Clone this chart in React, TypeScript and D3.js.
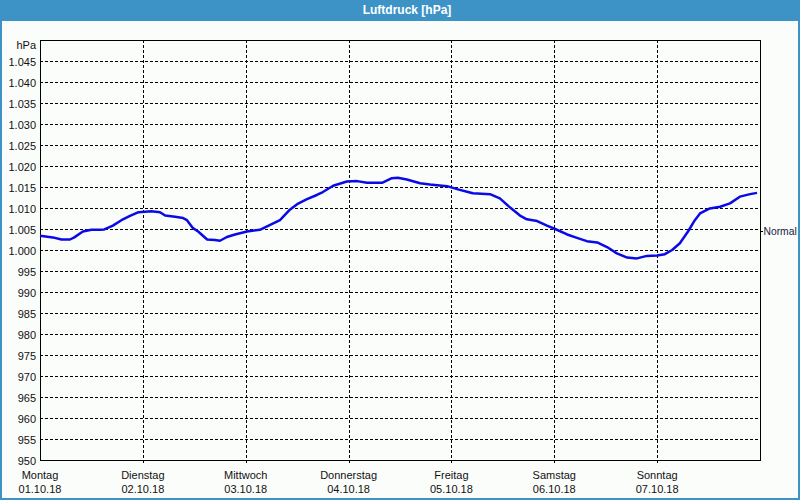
import React from "react";
import * as d3 from "d3";

const dayNames = ["Montag", "Dienstag", "Mittwoch", "Donnerstag", "Freitag", "Samstag", "Sonntag"];
const dateLabels = ["01.10.18", "02.10.18", "03.10.18", "04.10.18", "05.10.18", "06.10.18", "07.10.18"];
const yTicks = [950, 955, 960, 965, 970, 975, 980, 985, 990, 995, 1000, 1005, 1010, 1015, 1020, 1025, 1030, 1035, 1040, 1045];
const normalValue = 1004.5;

// hours since 01.10.18 00:00
const hours = [
  0, 3, 5, 7, 8, 10, 12, 14, 15, 17, 19, 21, 23, 26, 28, 29.2, 31.5, 33.4, 34.3, 35.7,
  36.9, 39, 40.8, 42, 43.6, 45.5, 48.3, 51.3, 53.7, 56, 58.3, 60, 62.3, 64.6, 66, 68.4,
  71.6, 74, 76.3, 79.8, 82.1, 83.5, 85.6, 88.7, 91, 95, 97.3, 100.3, 101, 105, 107.3,
  109.7, 112, 113.6, 116, 118.3, 120.2, 123, 125.3, 127.6, 130, 132.3, 134.6, 137,
  139.3, 141.6, 144, 145.8, 147.5, 149.3, 151.2, 152.8, 154, 156.3, 158.7, 161, 163.3,
  165.7, 167.3,
];
const pressure = [
  1003.4, 1003.0, 1002.5, 1002.5, 1003.0, 1004.4, 1004.8, 1004.8, 1004.9, 1005.8, 1007.1,
  1008.1, 1009.0, 1009.2, 1009.0, 1008.2, 1007.9, 1007.6, 1007.1, 1005.2, 1004.4, 1002.5,
  1002.4, 1002.2, 1003.1, 1003.7, 1004.4, 1004.8, 1006.0, 1007.1, 1009.6, 1010.9, 1012.1,
  1013.1, 1013.8, 1015.3, 1016.3, 1016.4, 1016.0, 1016.0, 1017.1, 1017.2, 1016.8, 1015.9,
  1015.6, 1015.2, 1014.5, 1013.7, 1013.5, 1013.3, 1012.3, 1010.1, 1008.2, 1007.3, 1006.9,
  1005.8, 1005.0, 1003.7, 1002.9, 1002.1, 1001.8, 1000.7, 999.2, 998.2, 998.0, 998.6,
  998.7, 999.0, 1000.0, 1001.6, 1004.4, 1007.1, 1008.7, 1009.9, 1010.3, 1011.1, 1012.7,
  1013.3, 1013.6,
];

const W = 800;
const H = 500;
const left = 40;
const right = 760;
const top = 40;
const bottom = 460;
const font = "'Liberation Sans', Arial, sans-serif";

const de = d3.formatLocale({ decimal: ",", thousands: ".", grouping: [3], currency: ["", " €"] });
const fmt = de.format(",d");

export default function App() {
  const x = d3.scaleLinear().domain([0, 168]).range([left, right]);
  const y = d3.scaleLinear().domain([950, 1050]).range([bottom, top]);
  const data = hours.map((h, i) => [h, pressure[i]] as [number, number]);
  const line = d3
    .line<[number, number]>()
    .x((d) => x(d[0]))
    .y((d) => y(d[1]));
  const dayTicks = dayNames.map((_, i) => i * 24);

  return (
    <svg
      width={W}
      height={H}
      style={{ position: "absolute", left: 0, top: 0, display: "block" }}
      fontFamily={font}
    >
      <rect x={0} y={0} width={W} height={H} fill="#fbfdfb" />
      <rect x={0} y={0} width={W} height={21} fill="#3d93c5" />
      <text x={407} y={14} textAnchor="middle" fill="#fff" fontWeight="bold" fontSize={12}>
        Luftdruck [hPa]
      </text>

      {/* horizontal grid */}
      {yTicks
        .filter((t) => t > 950)
        .map((t) => (
          <line
            key={"gy" + t}
            x1={left}
            x2={right}
            y1={Math.round(y(t)) + 0.5}
            y2={Math.round(y(t)) + 0.5}
            stroke="#000"
            strokeWidth={1}
            strokeDasharray="3,2"
            shapeRendering="crispEdges"
          />
        ))}
      {/* vertical grid */}
      {dayTicks.slice(1).map((t) => (
        <line
          key={"gx" + t}
          x1={Math.round(x(t)) + 0.5}
          x2={Math.round(x(t)) + 0.5}
          y1={top}
          y2={bottom + 3}
          stroke="#000"
          strokeWidth={1}
          strokeDasharray="3,2"
          shapeRendering="crispEdges"
        />
      ))}

      {/* frame */}
      <rect
        x={left + 0.5}
        y={top + 0.5}
        width={right - left}
        height={bottom - top}
        fill="none"
        stroke="#000"
        strokeWidth={1}
        shapeRendering="crispEdges"
      />

      {/* y labels */}
      <text x={36} y={49} textAnchor="end" fontSize={11} fill="#111">
        hPa
      </text>
      {yTicks.map((t) => (
        <text key={"yl" + t} x={36} y={y(t) + 4.5} textAnchor="end" fontSize={11} fill="#111">
          {fmt(t)}
        </text>
      ))}

      {/* x labels */}
      {dayTicks.map((t, i) => (
        <g key={"xl" + t}>
          <text x={x(t)} y={479} textAnchor="middle" fontSize={11} fill="#111">
            {dayNames[i]}
          </text>
          <text x={x(t)} y={493} textAnchor="middle" fontSize={11} fill="#111">
            {dateLabels[i]}
          </text>
        </g>
      ))}

      {/* Normal marker */}
      <line
        x1={right}
        x2={right + 3}
        y1={Math.round(y(normalValue)) + 0.5}
        y2={Math.round(y(normalValue)) + 0.5}
        stroke="#000"
        shapeRendering="crispEdges"
      />
      <text x={763.5} y={y(normalValue) + 4} fontSize={10.3} fill="#1a2040">
        Normal
      </text>

      {/* data line */}
      <path d={line(data) || ""} fill="none" stroke="#0a0ae6" strokeWidth={2.5} strokeLinejoin="round" />

      {/* outer border */}
      <rect x={1} y={1} width={W - 2} height={H - 2} fill="none" stroke="#3d93c5" strokeWidth={2} />
    </svg>
  );
}
